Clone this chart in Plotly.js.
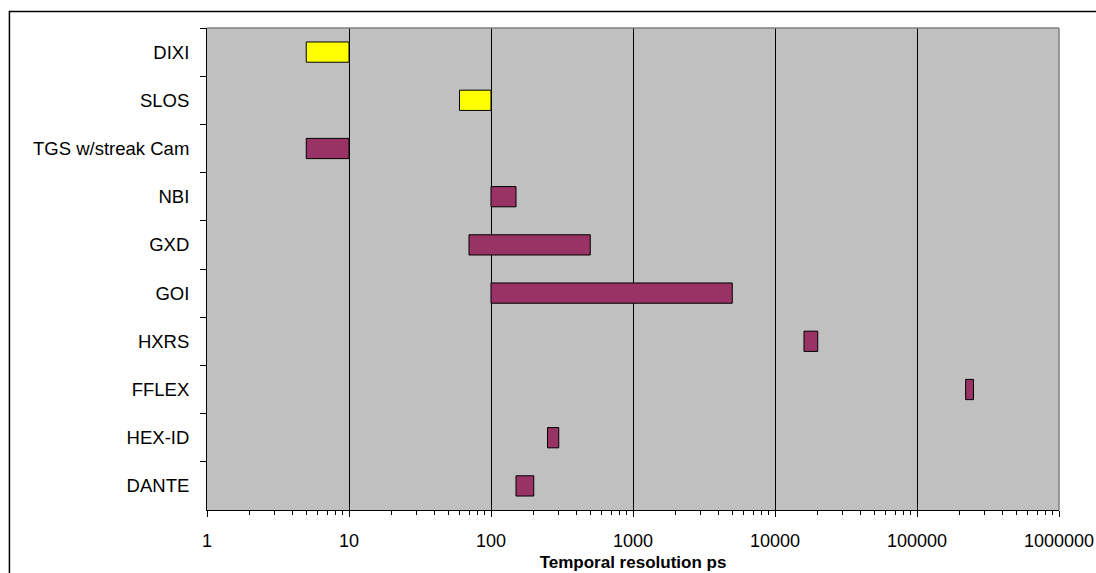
<!DOCTYPE html>
<html>
<head>
<meta charset="utf-8">
<script src="https://cdn.plot.ly/plotly-3.0.1.min.js"></script>
<style>
html,body{margin:0;padding:0;background:#fff;}
#chart{width:1096px;height:573px;}
</style>
</head>
<body>
<div id="chart"></div>
<script>
// Instruments (top to bottom as shown)
const categories = ['DIXI','SLOS','TGS w/streak Cam','NBI','GXD','GOI','HXRS','FFLEX','HEX-ID','DANTE'];
// Temporal resolution range, ps
const rangeStart = [5, 60, 5, 100, 70, 100, 16000, 220000, 250, 150];
const rangeEnd   = [10, 100, 10, 150, 500, 5000, 20000, 250000, 300, 200];
const barColors  = ['#FFFF00','#FFFF00','#993366','#993366','#993366','#993366','#993366','#993366','#993366','#993366'];
const xTickVals  = [1, 10, 100, 1000, 10000, 100000, 1000000];
const xTickText  = ['1','10','100','1000','10000','100000','1000000'];

const lengths = rangeEnd.map((e, i) => e - rangeStart[i]);

const trace = {
  type: 'bar',
  orientation: 'h',
  y: categories,
  x: lengths,
  base: rangeStart,
  marker: {color: barColors, line: {color: '#000000', width: 1}},
  hoverinfo: 'skip',
  showlegend: false
};

const font = {family: '"Liberation Sans", Arial, sans-serif', size: 18, color: '#000000'};

const layout = {
  width: 1096,
  height: 573,
  margin: {l: 206.7, r: 36.7, t: 28, b: 63, pad: 0},
  paper_bgcolor: '#FFFFFF',
  plot_bgcolor: '#C0C0C0',
  font: font,
  bargap: 0.58,
  showlegend: false,
  xaxis: {
    type: 'log',
    range: [0, 6],
    tickvals: xTickVals,
    ticktext: xTickText,
    ticks: 'outside',
    ticklen: 6,
    tickwidth: 1,
    tickcolor: '#000000',
    showline: true,
    linecolor: '#000000',
    linewidth: 1,
    showgrid: true,
    gridcolor: '#000000',
    gridwidth: 1,
    zeroline: false,
    minor: {ticks: 'outside', ticklen: 4, tickcolor: '#000000', tickwidth: 1, dtick: 'D1', showgrid: false},
    tickfont: {family: font.family, size: 18, color: '#000000'},
    ticklabelstandoff: 8,
    title: {text: 'Temporal resolution ps', font: {family: font.family, size: 17, color: '#000000', weight: 'bold'}, standoff: 6},
    fixedrange: true
  },
  yaxis: {
    type: 'category',
    categoryorder: 'array',
    categoryarray: categories,
    autorange: 'reversed',
    tickson: 'boundaries',
    ticks: 'outside',
    ticklen: 6,
    tickwidth: 1,
    tickcolor: '#000000',
    showline: true,
    linecolor: '#000000',
    linewidth: 1,
    showgrid: false,
    zeroline: false,
    tickfont: {family: font.family, size: 18.5, color: '#000000'},
    ticklabelstandoff: 13,
    fixedrange: true
  },
  shapes: [
    // plot area top and right border (grey)
    {type: 'line', xref: 'paper', yref: 'paper', x0: 0, x1: 1, y0: 1, y1: 1, line: {color: '#808080', width: 1.5}, layer: 'above'},
    {type: 'line', xref: 'paper', yref: 'paper', x0: 1, x1: 1, y0: 0, y1: 1, line: {color: '#808080', width: 1.5}, layer: 'above'},
    // outer chart border
    {type: 'rect', xref: 'paper', yref: 'paper', x0: -0.2319, x1: 1.06, y0: -0.16, y1: 1.0342, line: {color: '#000000', width: 1.5}, layer: 'above'}
  ]
};

Plotly.newPlot('chart', [trace], layout, {displayModeBar: false, staticPlot: true});
</script>
</body>
</html>
